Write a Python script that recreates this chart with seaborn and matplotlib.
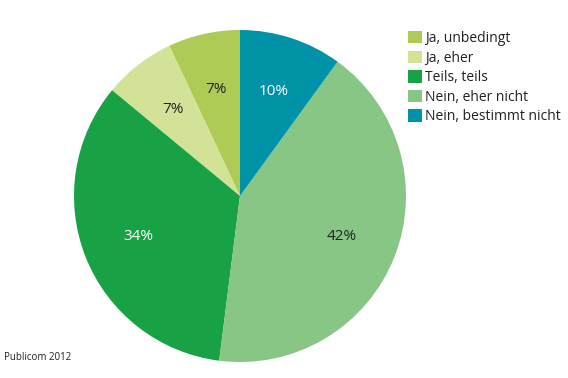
import matplotlib
matplotlib.use("Agg")
import matplotlib.pyplot as plt
import seaborn as sns
from matplotlib.patches import Patch

# Survey answers (Publicom 2012)
categories = ["Ja, unbedingt", "Ja, eher", "Teils, teils", "Nein, eher nicht", "Nein, bestimmt nicht"]
shares = [7, 7, 34, 42, 10]
colors = ["#AECB56", "#D2E296", "#19A245", "#88C685", "#0093A8"]
label_colors = ["#222222", "#222222", "white", "#222222", "white"]

sns.set_theme(style="white")
plt.rcParams['font.family'] = ['Open Sans', 'DejaVu Sans']

fig = plt.figure(figsize=(5.68, 3.78), dpi=100)
ax = fig.add_axes([74 / 568, 16 / 378, 332 / 568, 332 / 378])

wedges, texts, autotexts = ax.pie(
    shares, colors=colors, startangle=90, counterclock=True,
    autopct=lambda p: f"{p:.0f}%", pctdistance=0.66,
    wedgeprops=dict(linewidth=0), textprops=dict(fontsize=11),
)
for t, c in zip(autotexts, label_colors):
    t.set_color(c)
ax.set_xlim(-1, 1)
ax.set_ylim(-1, 1)
ax.set_aspect("equal")
ax.axis("off")

handles = [Patch(facecolor=c, edgecolor="none") for c in colors]
fig.legend(handles, categories, loc="upper left", bbox_to_anchor=(408 / 568, 1 - 31 / 378),
           frameon=False, fontsize=10, handlelength=1.0, handleheight=1.0,
           handletextpad=0.25, labelspacing=0.33, borderaxespad=0, borderpad=0,
           labelcolor="#222222")

fig.text(4 / 568, 1 - 357 / 378, "Publicom 2012", fontsize=7, color="#222222", va="center")

fig.savefig("out.png", dpi=100)
